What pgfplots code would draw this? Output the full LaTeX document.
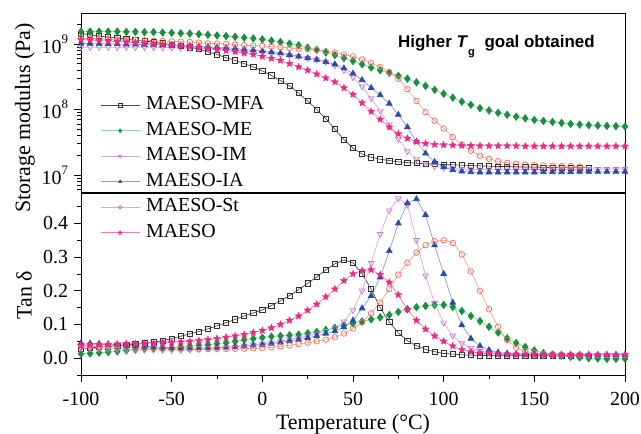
\documentclass[border=0pt]{standalone}
\usepackage{fontspec}
\setmainfont{Liberation Serif}
\newfontfamily\arial{Liberation Sans}
\usepackage{pgfplots}
\pgfplotsset{compat=1.18}
\usetikzlibrary{plotmarks}

\definecolor{mfal}{HTML}{4A4A4A}
\definecolor{mfam}{HTML}{303030}
\definecolor{mel}{HTML}{8FD4A8}
\definecolor{mem}{HTML}{1A8F3E}
\definecolor{iml}{HTML}{D9A6E0}
\definecolor{imm}{HTML}{C27AD4}
\definecolor{ial}{HTML}{8A9AE0}
\definecolor{iam}{HTML}{2C4AA6}
\definecolor{stl}{HTML}{F7A494}
\definecolor{stm}{HTML}{F26B5B}
\definecolor{mal}{HTML}{F47AB4}
\definecolor{mam}{HTML}{EC2A84}

\pgfdeclareplotmark{fstar}{%
  \pgfpathmoveto{\pgfpointpolar{90}{1.25\pgfplotmarksize}}%
  \pgfpathlineto{\pgfpointpolar{126}{0.55\pgfplotmarksize}}%
  \pgfpathlineto{\pgfpointpolar{162}{1.25\pgfplotmarksize}}%
  \pgfpathlineto{\pgfpointpolar{198}{0.55\pgfplotmarksize}}%
  \pgfpathlineto{\pgfpointpolar{234}{1.25\pgfplotmarksize}}%
  \pgfpathlineto{\pgfpointpolar{270}{0.55\pgfplotmarksize}}%
  \pgfpathlineto{\pgfpointpolar{306}{1.25\pgfplotmarksize}}%
  \pgfpathlineto{\pgfpointpolar{342}{0.55\pgfplotmarksize}}%
  \pgfpathlineto{\pgfpointpolar{18}{1.25\pgfplotmarksize}}%
  \pgfpathlineto{\pgfpointpolar{54}{0.55\pgfplotmarksize}}%
  \pgfpathclose\pgfusepathqfillstroke}

\pgfplotsset{
  base/.style={
    scale only axis, width=544bp, anchor=south west,
    xmin=-100, xmax=200,
    axis line style={line width=1bp, black},
    tick align=outside,
    major tick style={line width=0.8bp, black},
    minor tick style={line width=0.7bp, black},
    major tick length=7bp, minor tick length=4bp,
    tick label style={font=\fontsize{20}{20}\selectfont},
    xticklabel style={yshift=-8bp, inner sep=2bp},
    yticklabel style={xshift=-2.5bp},
    xtick pos=bottom, ytick pos=left,
    legend image code/.code={\draw[mark repeat=2,mark phase=2,##1,mark size=1.8bp] plot coordinates {(0bp,0bp) (19.5bp,0bp) (39bp,0bp)};},
  },
  mfa/.style={color=mfal, line width=0.7bp, mark=square, mark size=2.6bp, mark options={draw=mfam, solid}},
  me/.style={color=mel, line width=0.8bp, mark=diamond*, mark size=3.6bp, mark options={draw=mem, fill=mem}},
  im/.style={color=iml, line width=0.7bp, mark=triangle, mark size=3.3bp, mark options={draw=imm, rotate=180}},
  ia/.style={color=ial, line width=0.7bp, mark=triangle*, mark size=3.3bp, mark options={draw=iam, fill=iam}},
  st/.style={color=stl, line width=0.7bp, mark=o, mark size=2.8bp, mark options={draw=stm}},
  maeso/.style={color=mal, line width=0.7bp, mark=fstar, mark size=3bp, mark options={draw=mam, fill=mam, line width=0.3bp}},
}

\begin{document}
\begin{tikzpicture}
\path[use as bounding box] (0bp,0bp) rectangle (641bp,434bp);

% ---------------- upper: storage modulus ----------------
\begin{axis}[base, at={(81bp,241bp)}, height=179bp,
  ymode=log, ymin=5.31e6, ymax=2.87e9,
  xtick=\empty,
  ytick={1e7,1e8,1e9},
  yticklabels={10\raisebox{0.5em}{\fontsize{13}{13}\selectfont 7},10\raisebox{0.5em}{\fontsize{13}{13}\selectfont 8},10\raisebox{0.5em}{\fontsize{13}{13}\selectfont 9}},
  minor ytick={6e6,7e6,8e6,9e6,2e7,3e7,4e7,5e7,6e7,7e7,8e7,9e7,2e8,3e8,4e8,5e8,6e8,7e8,8e8,9e8,2e9},
  legend style={draw=none, fill=none, at={(0.035,0.543)}, anchor=north west,
    font=\fontsize{20}{20}\selectfont, row sep=7bp, inner sep=0pt,
    nodes={inner sep=0pt, text height=14bp, text depth=4.5bp},
    /tikz/every odd column/.append style={column sep=6bp}},
  legend cell align=left,
]
\addplot[mfa] coordinates {(-100,1.445e9) (-95,1.380e9) (-90,1.318e9) (-85,1.274e9) (-80,1.230e9) (-75,1.189e9) (-70,1.148e9) (-65,1.109e9) (-60,1.072e9) (-55,1.023e9) (-50,9.772e8) (-45,9.333e8) (-40,8.913e8) (-35,8.318e8) (-30,7.586e8) (-25,6.918e8) (-20,6.166e8) (-15,5.623e8) (-10,5.012e8) (-5,4.467e8) (0,3.890e8) (5,3.311e8) (10,2.754e8) (15,2.291e8) (20,1.778e8) (25,1.349e8) (30,1.000e8) (35,7.244e7) (40,5.012e7) (45,3.467e7) (50,2.570e7) (55,2.089e7) (60,1.862e7) (65,1.738e7) (70,1.660e7) (75,1.585e7) (80,1.549e7) (85,1.514e7) (90,1.479e7) (95,1.462e7) (100,1.445e7) (105,1.429e7) (110,1.413e7) (115,1.396e7) (120,1.380e7) (125,1.365e7) (130,1.349e7) (135,1.349e7) (140,1.334e7) (145,1.318e7) (150,1.318e7) (155,1.303e7) (160,1.303e7) (165,1.288e7) (170,1.288e7) (175,1.288e7) (180,1.288e7)};
\addlegendentry{MAESO-MFA}
\addplot[me] coordinates {(-100,1.549e9) (-95,1.549e9) (-90,1.549e9) (-85,1.549e9) (-80,1.549e9) (-75,1.531e9) (-70,1.531e9) (-65,1.514e9) (-60,1.514e9) (-55,1.496e9) (-50,1.479e9) (-45,1.462e9) (-40,1.445e9) (-35,1.413e9) (-30,1.380e9) (-25,1.349e9) (-20,1.318e9) (-15,1.288e9) (-10,1.245e9) (-5,1.216e9) (0,1.175e9) (5,1.122e9) (10,1.072e9) (15,1.012e9) (20,9.550e8) (25,8.810e8) (30,8.128e8) (35,7.413e8) (40,6.761e8) (45,6.095e8) (50,5.495e8) (55,4.898e8) (60,4.365e8) (65,3.981e8) (70,3.631e8) (75,3.273e8) (80,2.951e8) (85,2.600e8) (90,2.291e8) (95,1.995e8) (100,1.738e8) (105,1.514e8) (110,1.318e8) (115,1.175e8) (120,1.047e8) (125,9.66e7) (130,8.913e7) (135,8.318e7) (140,7.762e7) (145,7.33e7) (150,6.918e7) (155,6.68e7) (160,6.457e7) (165,6.24e7) (170,6.026e7) (175,5.888e7) (180,5.754e7) (185,5.69e7) (190,5.623e7) (195,5.56e7) (200,5.495e7)};
\addlegendentry{MAESO-ME}
\addplot[im] coordinates {(-100,8.913e8) (-95,8.913e8) (-90,8.913e8) (-85,8.913e8) (-80,8.913e8) (-75,8.913e8) (-70,8.913e8) (-65,8.913e8) (-60,8.913e8) (-55,8.81e8) (-50,8.81e8) (-45,8.710e8) (-40,8.710e8) (-35,8.61e8) (-30,8.511e8) (-25,8.414e8) (-20,8.318e8) (-15,8.035e8) (-10,7.852e8) (-5,7.586e8) (0,7.413e8) (5,7.161e8) (10,6.918e8) (15,6.683e8) (20,6.457e8) (25,6.095e8) (30,5.754e8) (35,5.309e8) (40,4.677e8) (45,3.981e8) (50,3.090e8) (55,2.239e8) (60,1.479e8) (65,9.550e7) (70,5.888e7) (75,3.548e7) (80,2.291e7) (85,1.738e7) (90,1.479e7) (95,1.349e7) (100,1.288e7) (105,1.259e7) (110,1.230e7) (115,1.216e7) (120,1.202e7) (125,1.202e7) (130,1.202e7) (135,1.202e7) (140,1.202e7) (145,1.202e7) (150,1.202e7) (155,1.202e7) (160,1.202e7) (165,1.216e7) (170,1.216e7) (175,1.216e7) (180,1.230e7) (185,1.230e7) (190,1.230e7) (195,1.230e7) (200,1.230e7)};
\addlegendentry{MAESO-IM}
\addplot[ia] coordinates {(-100,1.023e9) (-95,1.012e9) (-90,1.012e9) (-85,1.000e9) (-80,1.000e9) (-75,9.886e8) (-70,9.886e8) (-65,9.772e8) (-60,9.772e8) (-55,9.66e8) (-50,9.550e8) (-45,9.44e8) (-40,9.333e8) (-35,9.120e8) (-30,9.016e8) (-25,8.81e8) (-20,8.710e8) (-15,8.511e8) (-10,8.222e8) (-5,8.035e8) (0,7.762e8) (5,7.499e8) (10,7.244e8) (15,6.839e8) (20,6.457e8) (25,6.095e8) (30,5.754e8) (35,5.309e8) (40,4.898e8) (45,4.266e8) (50,3.548e8) (55,2.818e8) (60,2.138e8) (65,1.660e8) (70,1.230e8) (75,8.318e7) (80,5.370e7) (85,3.236e7) (90,2.138e7) (95,1.585e7) (100,1.318e7) (105,1.189e7) (110,1.135e7) (115,1.109e7) (120,1.096e7) (125,1.096e7) (130,1.096e7) (135,1.096e7) (140,1.096e7) (145,1.096e7) (150,1.096e7) (155,1.109e7) (160,1.109e7) (165,1.109e7) (170,1.109e7) (175,1.122e7) (180,1.122e7) (185,1.122e7) (190,1.122e7) (195,1.122e7) (200,1.122e7)};
\addlegendentry{MAESO-IA}
\addplot[st] coordinates {(-100,1.230e9) (-95,1.216e9) (-90,1.202e9) (-85,1.189e9) (-80,1.175e9) (-75,1.161e9) (-70,1.148e9) (-65,1.135e9) (-60,1.122e9) (-55,1.109e9) (-50,1.096e9) (-45,1.084e9) (-40,1.072e9) (-35,1.047e9) (-30,1.023e9) (-25,1.012e9) (-20,1.000e9) (-15,9.772e8) (-10,9.550e8) (-5,9.441e8) (0,9.333e8) (5,9.120e8) (10,8.913e8) (15,8.710e8) (20,8.511e8) (25,8.318e8) (30,8.128e8) (35,7.762e8) (40,7.413e8) (45,6.918e8) (50,6.457e8) (55,5.821e8) (60,5.129e8) (65,4.467e8) (70,3.715e8) (75,2.951e8) (80,2.042e8) (85,1.349e8) (90,9.120e7) (95,6.761e7) (100,5.129e7) (105,3.802e7) (110,2.917e7) (115,2.344e7) (120,1.972e7) (125,1.758e7) (130,1.622e7) (135,1.531e7) (140,1.479e7) (145,1.445e7) (150,1.413e7) (155,1.396e7) (160,1.380e7) (165,1.365e7) (170,1.365e7) (175,1.349e7)};
\addlegendentry{MAESO-St}
\addplot[maeso] coordinates {(-100,1.161e9) (-95,1.148e9) (-90,1.122e9) (-85,1.109e9) (-80,1.084e9) (-75,1.072e9) (-70,1.047e9) (-65,1.023e9) (-60,1.000e9) (-55,9.772e8) (-50,9.550e8) (-45,9.333e8) (-40,9.120e8) (-35,8.810e8) (-30,8.511e8) (-25,8.222e8) (-20,7.943e8) (-15,7.586e8) (-10,7.244e8) (-5,6.918e8) (0,6.457e8) (5,6.026e8) (10,5.623e8) (15,5.012e8) (20,4.467e8) (25,3.981e8) (30,3.467e8) (35,3.020e8) (40,2.630e8) (45,2.138e8) (50,1.698e8) (55,1.259e8) (60,9.333e7) (65,7.079e7) (70,5.370e7) (75,4.266e7) (80,3.631e7) (85,3.236e7) (90,3.020e7) (95,2.917e7) (100,2.884e7) (105,2.851e7) (110,2.818e7) (115,2.818e7) (120,2.786e7) (125,2.786e7) (130,2.786e7) (135,2.786e7) (140,2.786e7) (145,2.754e7) (150,2.754e7) (155,2.754e7) (160,2.754e7) (165,2.754e7) (170,2.754e7) (175,2.754e7) (180,2.754e7) (185,2.754e7) (190,2.754e7) (195,2.754e7) (200,2.754e7)};
\addlegendentry{MAESO}
\end{axis}

% ---------------- lower: tan delta ----------------
\begin{axis}[base, at={(81bp,59bp)}, height=182bp,
  ymin=-0.05, ymax=0.49,
  xtick={-100,-50,0,50,100,150,200},
  xticklabels={-100,-50,0,50,100,150,200},
  minor xtick={-75,-25,25,75,125,175},
  ytick={0,0.1,0.2,0.3,0.4},
  yticklabels={0.0,0.1,0.2,0.3,0.4},
  minor ytick={-0.05,0.05,0.15,0.25,0.35,0.45},
]
\addplot[mfa] coordinates {(-100,0.028) (-95,0.030) (-90,0.033) (-85,0.035) (-80,0.037) (-75,0.039) (-70,0.041) (-65,0.044) (-60,0.047) (-55,0.052) (-50,0.058) (-45,0.065) (-40,0.072) (-35,0.079) (-30,0.087) (-25,0.096) (-20,0.105) (-15,0.115) (-10,0.125) (-5,0.134) (0,0.143) (5,0.156) (10,0.170) (15,0.186) (20,0.203) (25,0.222) (30,0.241) (35,0.262) (40,0.280) (45,0.291) (50,0.283) (55,0.250) (60,0.205) (65,0.150) (70,0.107) (75,0.075) (80,0.052) (85,0.037) (90,0.026) (95,0.019) (100,0.014) (105,0.012) (110,0.010) (115,0.009) (120,0.008) (125,0.008) (130,0.007) (135,0.007) (140,0.007) (145,0.007) (150,0.007) (155,0.007) (160,0.007) (165,0.007) (170,0.008) (175,0.008) (180,0.008)};
\addplot[me] coordinates {(-100,0.013) (-95,0.014) (-90,0.016) (-85,0.018) (-80,0.020) (-75,0.023) (-70,0.025) (-65,0.027) (-60,0.028) (-55,0.030) (-50,0.031) (-45,0.033) (-40,0.035) (-35,0.038) (-30,0.040) (-25,0.043) (-20,0.046) (-15,0.050) (-10,0.054) (-5,0.058) (0,0.061) (5,0.064) (10,0.066) (15,0.068) (20,0.070) (25,0.074) (30,0.078) (35,0.084) (40,0.090) (45,0.097) (50,0.103) (55,0.109) (60,0.115) (65,0.121) (70,0.128) (75,0.137) (80,0.145) (85,0.151) (90,0.155) (95,0.158) (100,0.158) (105,0.152) (110,0.140) (115,0.125) (120,0.110) (125,0.093) (130,0.076) (135,0.059) (140,0.045) (145,0.033) (150,0.023) (155,0.015) (160,0.010) (165,0.007) (170,0.004) (175,0.002) (180,0.000) (185,-0.001) (190,-0.002) (195,-0.002) (200,-0.002)};
\addplot[im] coordinates {(-100,0.030) (-95,0.029) (-90,0.028) (-85,0.027) (-80,0.027) (-75,0.026) (-70,0.026) (-65,0.025) (-60,0.025) (-55,0.024) (-50,0.024) (-45,0.024) (-40,0.025) (-35,0.026) (-30,0.028) (-25,0.030) (-20,0.032) (-15,0.034) (-10,0.037) (-5,0.040) (0,0.042) (5,0.046) (10,0.050) (15,0.055) (20,0.060) (25,0.066) (30,0.072) (35,0.080) (40,0.090) (45,0.108) (50,0.142) (55,0.200) (60,0.282) (65,0.368) (70,0.438) (75,0.474) (80,0.455) (85,0.350) (90,0.245) (95,0.163) (100,0.105) (105,0.067) (110,0.044) (115,0.030) (120,0.021) (125,0.016) (130,0.013) (135,0.012) (140,0.011) (145,0.010) (150,0.010) (155,0.010) (160,0.010) (165,0.010) (170,0.010) (175,0.010) (180,0.010) (185,0.010) (190,0.010) (195,0.010) (200,0.010)};
\addplot[ia] coordinates {(-100,0.045) (-95,0.044) (-90,0.043) (-85,0.041) (-80,0.040) (-75,0.038) (-70,0.037) (-65,0.035) (-60,0.034) (-55,0.032) (-50,0.031) (-45,0.030) (-40,0.030) (-35,0.030) (-30,0.030) (-25,0.031) (-20,0.032) (-15,0.034) (-10,0.036) (-5,0.038) (0,0.040) (5,0.043) (10,0.047) (15,0.051) (20,0.055) (25,0.060) (30,0.066) (35,0.073) (40,0.080) (45,0.092) (50,0.112) (55,0.148) (60,0.185) (65,0.240) (70,0.318) (75,0.400) (80,0.460) (85,0.472) (90,0.425) (95,0.335) (100,0.250) (105,0.165) (110,0.098) (115,0.058) (120,0.036) (125,0.024) (130,0.017) (135,0.014) (140,0.012) (145,0.011) (150,0.011) (155,0.010) (160,0.010) (165,0.010) (170,0.010) (175,0.010) (180,0.010) (185,0.010) (190,0.010) (195,0.010) (200,0.010)};
\addplot[st] coordinates {(-100,0.035) (-95,0.035) (-90,0.034) (-85,0.034) (-80,0.033) (-75,0.032) (-70,0.031) (-65,0.030) (-60,0.030) (-55,0.029) (-50,0.028) (-45,0.027) (-40,0.027) (-35,0.027) (-30,0.027) (-25,0.027) (-20,0.027) (-15,0.028) (-10,0.028) (-5,0.029) (0,0.030) (5,0.032) (10,0.035) (15,0.038) (20,0.042) (25,0.046) (30,0.050) (35,0.055) (40,0.062) (45,0.073) (50,0.088) (55,0.106) (60,0.133) (65,0.165) (70,0.205) (75,0.248) (80,0.283) (85,0.313) (90,0.335) (95,0.347) (100,0.350) (105,0.342) (110,0.308) (115,0.257) (120,0.200) (125,0.145) (130,0.093) (135,0.054) (140,0.031) (145,0.020) (150,0.015) (155,0.013) (160,0.012) (165,0.011) (170,0.010) (175,0.010)};
\addplot[maeso] coordinates {(-100,0.038) (-95,0.039) (-90,0.040) (-85,0.041) (-80,0.042) (-75,0.043) (-70,0.043) (-65,0.044) (-60,0.045) (-55,0.046) (-50,0.047) (-45,0.048) (-40,0.050) (-35,0.052) (-30,0.055) (-25,0.058) (-20,0.062) (-15,0.066) (-10,0.070) (-5,0.076) (0,0.082) (5,0.090) (10,0.100) (15,0.112) (20,0.125) (25,0.142) (30,0.160) (35,0.182) (40,0.205) (45,0.230) (50,0.250) (55,0.260) (60,0.262) (65,0.248) (70,0.225) (75,0.188) (80,0.145) (85,0.112) (90,0.086) (95,0.066) (100,0.050) (105,0.036) (110,0.025) (115,0.019) (120,0.015) (125,0.013) (130,0.012) (135,0.011) (140,0.011) (145,0.011) (150,0.010) (155,0.010) (160,0.010) (165,0.010) (170,0.010) (175,0.010) (180,0.010) (185,0.010) (190,0.010) (195,0.010) (200,0.010)};
\end{axis}

% ---------------- labels and annotation ----------------
\node[rotate=90, anchor=center, font=\fontsize{22}{22}\selectfont] at (25bp,316bp) {Storage modulus (Pa)};
\node[rotate=90, anchor=center, font=\fontsize{22}{22}\selectfont] at (24bp,139bp) {Tan δ};
\node[anchor=center, inner sep=1bp, font=\fontsize{22}{22}\selectfont] at (353bp,10bp) {Temperature (°C)};
\node[anchor=base west, inner sep=0pt, font=\arial\bfseries\fontsize{17}{17}\selectfont] at (398bp,386bp) {Higher \textit{T}\raisebox{-0.45em}{\fontsize{11}{11}\selectfont g}\hspace{0.3em} goal obtained};
\end{tikzpicture}
\end{document}
